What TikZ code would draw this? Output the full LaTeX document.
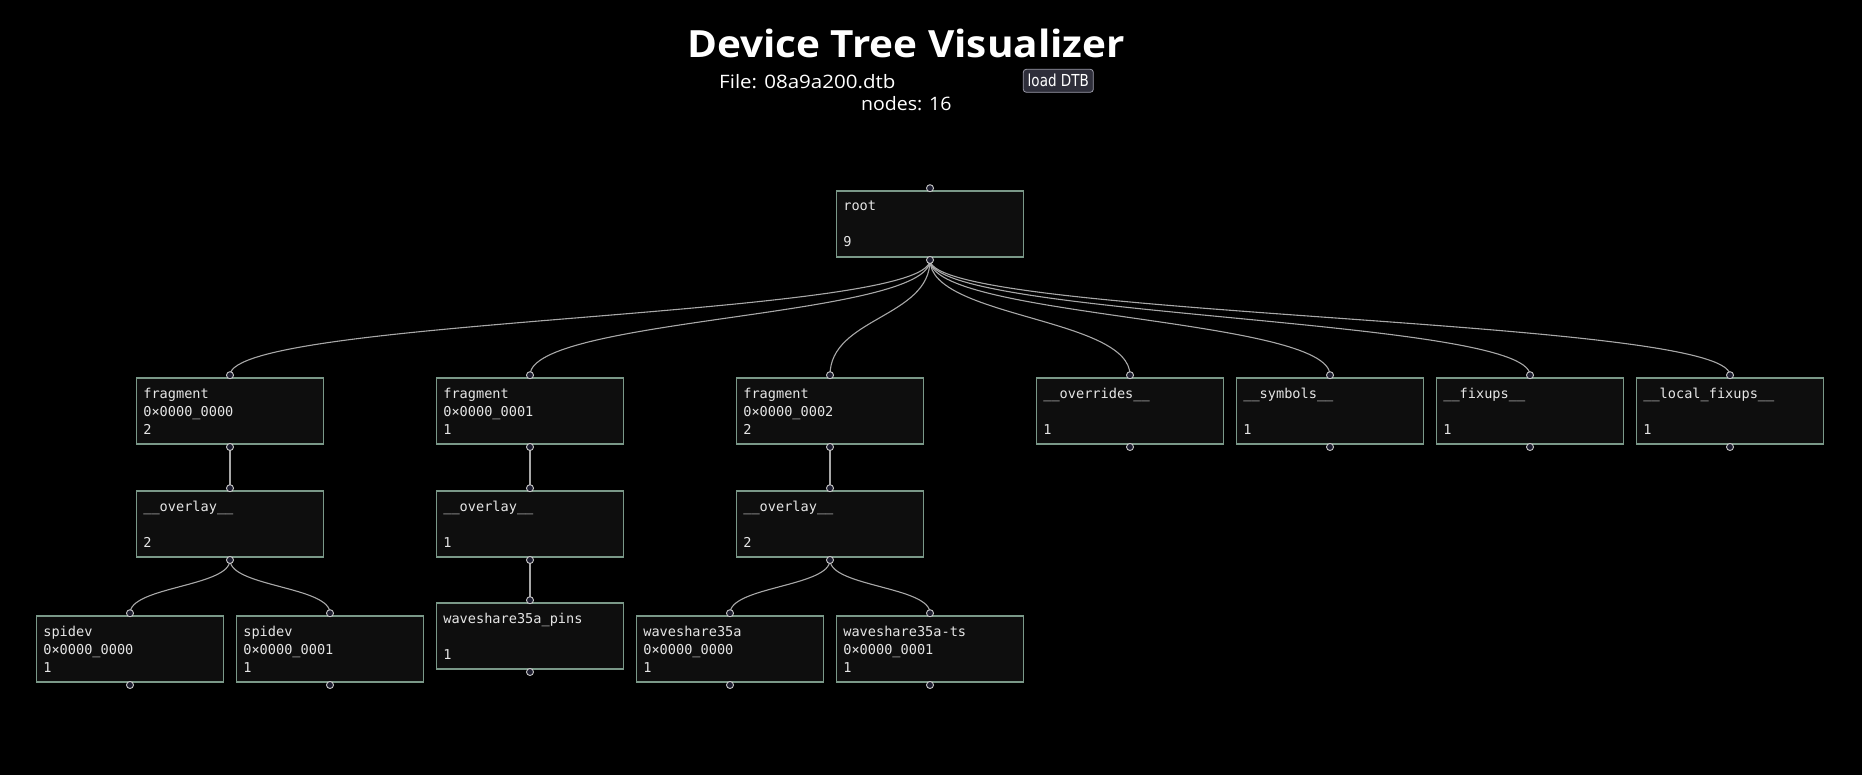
\documentclass[tikz,border=0pt]{standalone}
\usepackage{fontspec}
\setmainfont{Open Sans}
\setmonofont{DejaVu Sans Mono}
\newfontfamily\btnfont{DejaVu Sans}[FakeStretch=0.82]
\usetikzlibrary{calc}
\definecolor{boxfill}{HTML}{0E0E0E}
\definecolor{boxline}{HTML}{7A9888}
\definecolor{txt}{HTML}{E6E6E6}
\definecolor{portfill}{HTML}{1C1C2E}
\definecolor{portline}{HTML}{C8C8C8}
\definecolor{edgec}{HTML}{A8A8A8}
\definecolor{btnfill}{HTML}{2E2E3A}
\definecolor{btnline}{HTML}{9A9AA8}
\pgfdeclarelayer{bglayer}
\pgfdeclarelayer{edgelayer}
\pgfsetlayers{bglayer,edgelayer,main}
\tikzset{
  dtbox/.style={rectangle, draw=boxline, fill=boxfill, line width=1.6pt,
    minimum width=186.7pt, minimum height=66pt, inner sep=0pt, outer sep=0pt},
  dttext/.style={anchor=base west, inner sep=0pt, text=txt,
    font=\ttfamily\fontsize{13.6}{18}\selectfont},
  port/.style={circle, draw=portline, fill=portfill, line width=0.9pt,
    minimum size=7pt, inner sep=0pt},
  vlink/.style={draw=edgec, line width=1.1pt,
    to path={let \p1=(\tikztostart), \p2=(\tikztotarget), \p3=($(\p1)!0.5!(\p2)$) in
      .. controls (\x1,\y3) and (\x2,\y3) .. (\tikztotarget)}},
  hdr/.style={inner sep=0pt, text=white},
  btn/.style={rectangle, rounded corners=3pt, draw=btnline, fill=btnfill,
    line width=0.8pt, minimum width=70pt, minimum height=23pt, inner sep=0pt,
    text=white, font=\btnfont\fontsize{16.5}{18}\selectfont}
}
\newcommand\dtn[6]{%
  \node[dtbox, anchor=north] (#1) at (#2,#3) {};
  \node[dttext] (#1-a) at ([xshift=6.5pt, yshift=-20pt]#1.north west) {#4};
  \node[dttext] (#1-b) at ([xshift=6.5pt, yshift=-38pt]#1.north west) {#5};
  \node[dttext] (#1-c) at ([xshift=6.5pt, yshift=-56pt]#1.north west) {#6};
  \node[port] (#1-t) at ([yshift=2.8pt]#1.north) {};
  \node[port] (#1-s) at ([yshift=-3pt]#1.south) {};
}
\begin{document}
\begin{tikzpicture}[x=1pt, y=-1pt]
\begin{pgfonlayer}{bglayer}
  \fill[black] (0,0) rectangle (1862,775);
\end{pgfonlayer}
\useasboundingbox (0,0) rectangle (1862,775);

% header
\node[hdr, anchor=base, font=\fontsize{37.5}{40}\selectfont\bfseries] (title) at (906,58) {\scalebox{1.08}[1]{Device Tree Visualizer}};
\node[hdr, anchor=base west, font=\fontsize{18.5}{20}\selectfont] (file) at (719,88.3) {\scalebox{1.11}[1]{File: 08a9a200.dtb}};
\node[hdr, anchor=base west, font=\fontsize{18.5}{20}\selectfont] (count) at (861,110.7) {\scalebox{1.055}[1]{nodes: 16}};
\node[btn] (load) at (1058.3,80.8) {load DTB};

% tree nodes
\dtn{root}{930}{191}{root}{}{9}
\dtn{f1}{230}{378}{fragment}{0×0000\_0000}{2}
\dtn{f2}{530}{378}{fragment}{0×0000\_0001}{1}
\dtn{f3}{830}{378}{fragment}{0×0000\_0002}{2}
\dtn{ovr}{1130}{378}{\_\_overrides\_\_}{}{1}
\dtn{sym}{1330}{378}{\_\_symbols\_\_}{}{1}
\dtn{fix}{1530}{378}{\_\_fixups\_\_}{}{1}
\dtn{lfix}{1730}{378}{\_\_local\_fixups\_\_}{}{1}
\dtn{o1}{230}{491}{\_\_overlay\_\_}{}{2}
\dtn{o2}{530}{491}{\_\_overlay\_\_}{}{1}
\dtn{o3}{830}{491}{\_\_overlay\_\_}{}{2}
\dtn{sp1}{130}{616}{spidev}{0×0000\_0000}{1}
\dtn{sp2}{330}{616}{spidev}{0×0000\_0001}{1}
\dtn{pins}{530}{603}{waveshare35a\_pins}{}{1}
\dtn{ws}{730}{616}{waveshare35a}{0×0000\_0000}{1}
\dtn{wsts}{930}{616}{waveshare35a-ts}{0×0000\_0001}{1}

% connectors
\begin{pgfonlayer}{edgelayer}
  \foreach \c in {f1,f2,f3,ovr,sym,fix,lfix}
    \draw[vlink] (root-s.center) to (\c-t.center);
  \draw[vlink] (f1-s.center) to (o1-t.center);
  \draw[vlink] (f2-s.center) to (o2-t.center);
  \draw[vlink] (f3-s.center) to (o3-t.center);
  \draw[vlink] (o1-s.center) to (sp1-t.center);
  \draw[vlink] (o1-s.center) to (sp2-t.center);
  \draw[vlink] (o2-s.center) to (pins-t.center);
  \draw[vlink] (o3-s.center) to (ws-t.center);
  \draw[vlink] (o3-s.center) to (wsts-t.center);
\end{pgfonlayer}
\end{tikzpicture}
\end{document}
